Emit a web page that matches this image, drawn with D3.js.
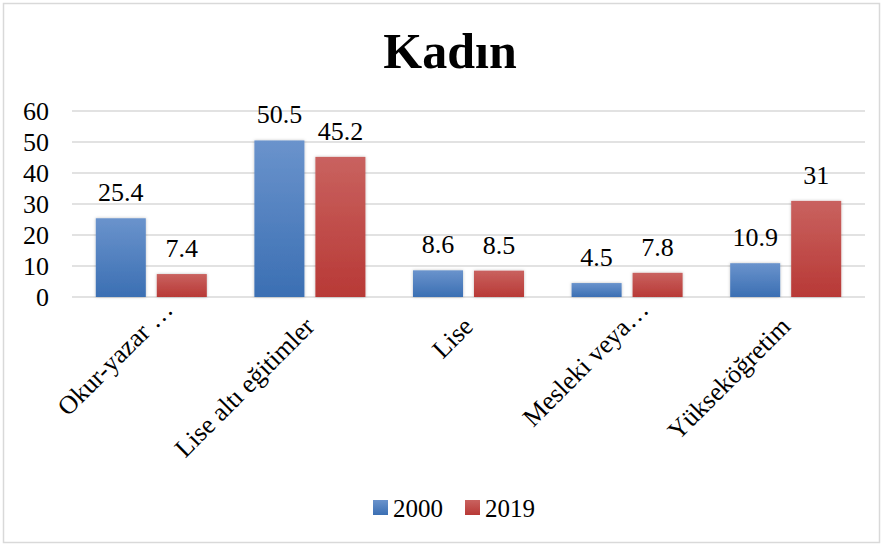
<!DOCTYPE html>
<html>
<head>
<meta charset="utf-8">
<script src="https://cdn.jsdelivr.net/npm/d3@7"></script>
<style>
  body { margin: 0; background: #fff; }
  svg text { font-family: "Liberation Serif", "Times New Roman", serif !important; fill: #000; }
</style>
</head>
<body>
<svg id="chart" width="883" height="546"></svg>
<script>
let categories = ["Okur-yazar …", "Lise altı eğitimler", "Lise", "Mesleki veya…", "Yükseköğretim"];
let series = ["2000", "2019"];
let values2000 = [25.4, 50.5, 8.6, 4.5, 10.9];
let values2019 = [7.4, 45.2, 8.5, 7.8, 31];
let yTicks = [0, 10, 20, 30, 40, 50, 60];

let width = 883, height = 546;
let svg = d3.select("#chart");
let serif = "'Liberation Serif', 'Times New Roman', serif";

// colours: light top -> darker bottom, like the office gradient fill
let fills = {
    "2000": ["#6a93cc", "#3b6fb3"],
    "2019": ["#c9625f", "#b83936"]
};

let defs = svg.append("defs");
series.forEach(s => {
    let g = defs.append("linearGradient")
        .attr("id", "grad" + s)
        .attr("x1", 0).attr("y1", 0).attr("x2", 0).attr("y2", 1);
    g.append("stop").attr("offset", "0%").attr("stop-color", fills[s][0]);
    g.append("stop").attr("offset", "100%").attr("stop-color", fills[s][1]);
});
let shadow = defs.append("filter").attr("id", "shadow")
    .attr("x", "-20%").attr("y", "-20%").attr("width", "140%").attr("height", "140%");
shadow.append("feDropShadow")
    .attr("dx", 0).attr("dy", 0).attr("stdDeviation", 1.5)
    .attr("flood-color", "#000").attr("flood-opacity", 0.25);

// outer border
svg.append("rect")
    .attr("x", 3.5).attr("y", 3.5)
    .attr("width", 876).attr("height", 539)
    .attr("fill", "#fff")
    .attr("stroke", "#d9d9d9")
    .attr("stroke-width", 1.5);

// title
svg.append("text")
    .attr("x", 450).attr("y", 68)
    .attr("text-anchor", "middle")
    .style("font-family", serif)
    .style("font-size", "50px")
    .style("font-weight", "bold")
    .text("Kadın");

let data = categories.map((c, i) => ({
    cat: c,
    vals: [
        { s: "2000", v: values2000[i] },
        { s: "2019", v: values2019[i] }
    ]
}));

let x0 = d3.scaleBand()
    .domain(categories)
    .range([72, 865])
    .paddingInner(0.3)
    .paddingOuter(0.15);

let x1 = d3.scaleBand()
    .domain(series)
    .range([0, x0.bandwidth()])
    .paddingInner(0.18);

let y = d3.scaleLinear()
    .domain([0, 60])
    .range([297, 111]);

// gridlines
svg.append("g")
    .selectAll("line")
    .data(yTicks)
    .enter()
    .append("line")
    .attr("x1", 72).attr("x2", 865)
    .attr("y1", d => y(d)).attr("y2", d => y(d))
    .attr("stroke", "#d9d9d9")
    .attr("stroke-width", 1.5);

// y axis labels
let yAxis = d3.axisLeft(y).tickValues(yTicks).tickSize(0).tickPadding(0);
let yg = svg.append("g")
    .attr("transform", "translate(49,0)")
    .call(yAxis);
yg.select(".domain").remove();
yg.selectAll(".tick text")
    .style("font-family", serif)
    .style("font-size", "26px")
    .attr("dy", "0.34em");

// bars
let groups = svg.selectAll(".grp")
    .data(data)
    .enter()
    .append("g")
    .attr("class", "grp")
    .attr("transform", d => "translate(" + x0(d.cat) + ",0)");

groups.selectAll("rect")
    .data(d => d.vals)
    .enter()
    .append("rect")
    .attr("x", d => x1(d.s))
    .attr("width", x1.bandwidth())
    .attr("y", d => y(d.v))
    .attr("height", d => y(0) - y(d.v))
    .attr("fill", d => "url(#grad" + d.s + ")")
    .attr("filter", "url(#shadow)");

groups.selectAll(".val")
    .data(d => d.vals)
    .enter()
    .append("text")
    .attr("class", "val")
    .attr("x", d => x1(d.s) + x1.bandwidth() / 2)
    .attr("y", d => y(d.v) - 17)
    .attr("text-anchor", "middle")
    .style("font-family", serif)
    .style("font-size", "26px")
    .text(d => d.v);

// category labels, rotated
svg.selectAll(".cat")
    .data(categories)
    .enter()
    .append("text")
    .attr("class", "cat")
    .attr("text-anchor", "end")
    .attr("transform", d => "translate(" + (x0(d) + x0.bandwidth() / 2 + 6) + ",328) rotate(-45)")
    .attr("dx", d => d.endsWith("…") ? 24 : 0)
    .style("font-family", serif)
    .style("font-size", "26px")
    .text(d => d);

// legend
let legend = svg.append("g")
    .selectAll("g")
    .data(series)
    .enter()
    .append("g")
    .attr("transform", (d, i) => "translate(" + (373 + i * 92) + ",500)");

legend.append("rect")
    .attr("width", 15).attr("height", 15)
    .attr("fill", d => "url(#grad" + d + ")");

legend.append("text")
    .attr("x", 20).attr("y", 17)
    .style("font-family", serif)
    .style("font-size", "25px")
    .text(d => d);
</script>
</body>
</html>
